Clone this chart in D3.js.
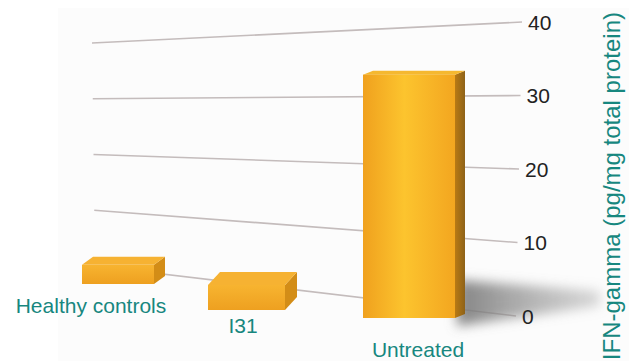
<!DOCTYPE html>
<html>
<head>
<meta charset="utf-8">
<script src="https://cdn.jsdelivr.net/npm/d3@7"></script>
<style>
  body { margin: 0; background: #fff; }
  svg { display: block; font-family: "Liberation Sans", Arial, Helvetica, sans-serif; }
</style>
</head>
<body>
<svg id="chart" width="629" height="361"></svg>
<script>
// Data
var categories = ['Healthy controls', 'I31', 'Untreated'];
var values = [2.6, 3.4, 33];
var tickValues = [0, 10, 20, 30, 40];
var axisTitle = 'IFN-gamma (pg/mg total protein)';

var width = 629,
    height = 361;

var svg = d3.select('#chart');
var defs = svg.append('defs');

// Scales for the back wall (perspective: left and right ends differ)
var yLeft = d3.scaleLinear().domain([0, 40]).range([266, 43]),
    yRight = d3.scaleLinear().domain([0, 40]).range([316, 22]),
    xLeft = d3.scaleLinear().domain([0, 40]).range([95, 92]),
    xRight = d3.scaleLinear().domain([0, 40]).range([516, 522]);

// Scales for the bars (floor in perspective)
var idx = d3.range(categories.length);
var xBar = d3.scaleLinear().domain([0, 1, 2]).range([82, 208, 363]),
    wBar = d3.scaleLinear().domain([0, 1, 2]).range([72, 77, 92]),
    floorY = d3.scaleLinear().domain([0, 1, 2]).range([284, 310, 318]),
    depthX = d3.scaleLinear().domain([0, 1, 2]).range([11, 12, 10]),
    depthY = d3.scaleLinear().domain([0, 1, 2]).range([-8, -13, -4]),
    hBar = d3.scaleLinear().domain([0, 40]).range([0, 295]);

var labelX = d3.scaleLinear().domain([0, 1, 2]).range([91, 243, 418]),
    labelY = d3.scaleLinear().domain([0, 1, 2]).range([313, 333, 357]);

// Gradients
var gFront = defs.append('linearGradient').attr('id', 'front').attr('x1', 0).attr('x2', 1).attr('y1', 0).attr('y2', 0);
gFront.append('stop').attr('offset', '0%').attr('stop-color', '#f0a11e');
gFront.append('stop').attr('offset', '45%').attr('stop-color', '#fcc42e');
gFront.append('stop').attr('offset', '100%').attr('stop-color', '#f3a620');

var gSmall = defs.append('linearGradient').attr('id', 'frontSmall').attr('x1', 0).attr('x2', 0).attr('y1', 0).attr('y2', 1);
gSmall.append('stop').attr('offset', '0%').attr('stop-color', '#f7b430');
gSmall.append('stop').attr('offset', '100%').attr('stop-color', '#eea020');

var gSide = defs.append('linearGradient').attr('id', 'side').attr('x1', 0).attr('x2', 1).attr('y1', 0).attr('y2', 0);
gSide.append('stop').attr('offset', '0%').attr('stop-color', '#b97a14');
gSide.append('stop').attr('offset', '100%').attr('stop-color', '#8e6218');

var gShadow = defs.append('linearGradient').attr('id', 'shadowGrad').attr('x1', 0).attr('x2', 1).attr('y1', 0).attr('y2', 0);
gShadow.append('stop').attr('offset', '0%').attr('stop-color', '#777').attr('stop-opacity', 0.9);
gShadow.append('stop').attr('offset', '100%').attr('stop-color', '#a0a0a0').attr('stop-opacity', 0.4);

defs.append('filter').attr('id', 'blur').attr('x', '-20%').attr('y', '-50%').attr('width', '140%').attr('height', '200%')
  .append('feGaussianBlur').attr('stdDeviation', 6);

// Faint panel behind the chart
svg.append('rect')
    .attr('x', 58).attr('y', 8)
    .attr('width', width - 58).attr('height', height - 8)
    .attr('fill', '#fcfcfc');

// Gridlines on the back wall
svg.selectAll('line.grid')
    .data(tickValues)
  .enter().append('line')
    .attr('class', 'grid')
    .attr('x1', function(d){ return xLeft(d); })
    .attr('y1', function(d){ return yLeft(d); })
    .attr('x2', function(d){ return xRight(d); })
    .attr('y2', function(d){ return yRight(d); })
    .attr('stroke', '#c4bcbc')
    .attr('stroke-width', 1.6);

// Shadow cast by the tall bar
var last = idx.length - 1;
var sx = xBar(last) + wBar(last),
    sy = floorY(last);
svg.append('path')
    .attr('d', 'M' + (sx + 2) + ',' + (sy - 38) +
               ' L' + (sx + 145) + ',' + (sy - 27) +
               ' L' + (sx + 145) + ',' + (sy - 12) +
               ' L' + (sx + 2) + ',' + (sy + 8) + ' Z')
    .attr('fill', 'url(#shadowGrad)')
    .attr('filter', 'url(#blur)');

// Bars as boxes
var bars = svg.selectAll('g.bar')
    .data(idx)
  .enter().append('g')
    .attr('class', 'bar');

function pts(a){ return a.map(function(p){ return p.join(','); }).join(' '); }

bars.each(function(i){
  var g = d3.select(this);
  var x0 = xBar(i), w = wBar(i), yb = floorY(i),
      yt = yb - hBar(values[i]), dx = depthX(i), dy = depthY(i);
  var tall = values[i] > 10;

  // right side
  g.append('polygon')
      .attr('points', pts([[x0 + w, yt], [x0 + w + dx, yt + dy], [x0 + w + dx, yb + dy], [x0 + w, yb]]))
      .attr('fill', tall ? 'url(#side)' : '#d38d17');
  // top
  g.append('polygon')
      .attr('points', pts([[x0, yt], [x0 + dx, yt + dy], [x0 + w + dx, yt + dy], [x0 + w, yt]]))
      .attr('fill', tall ? '#f5b830' : '#f6b232');
  // front
  g.append('rect')
      .attr('x', x0).attr('y', yt)
      .attr('width', w).attr('height', yb - yt)
      .attr('fill', tall ? 'url(#front)' : 'url(#frontSmall)');
});

// Tick labels
svg.selectAll('text.tick')
    .data(tickValues)
  .enter().append('text')
    .attr('class', 'tick')
    .attr('x', function(d){ return xRight(d) + 6; })
    .attr('y', function(d){ return yRight(d); })
    .attr('dy', '0.36em')
    .attr('font-size', 21)
    .attr('fill', '#222')
    .text(function(d){ return d; });

// Category labels
svg.selectAll('text.cat')
    .data(idx)
  .enter().append('text')
    .attr('class', 'cat')
    .attr('x', function(i){ return labelX(i); })
    .attr('y', function(i){ return labelY(i); })
    .attr('text-anchor', 'middle')
    .attr('font-size', 21)
    .attr('fill', '#17877f')
    .text(function(i){ return categories[i]; });

// Axis title, kept inside the page
svg.append('text')
    .attr('transform', 'translate(620,12) rotate(-90)')
    .attr('text-anchor', 'end')
    .attr('font-size', 24)
    .attr('fill', '#17877f')
    .text(axisTitle);
</script>
</body>
</html>
